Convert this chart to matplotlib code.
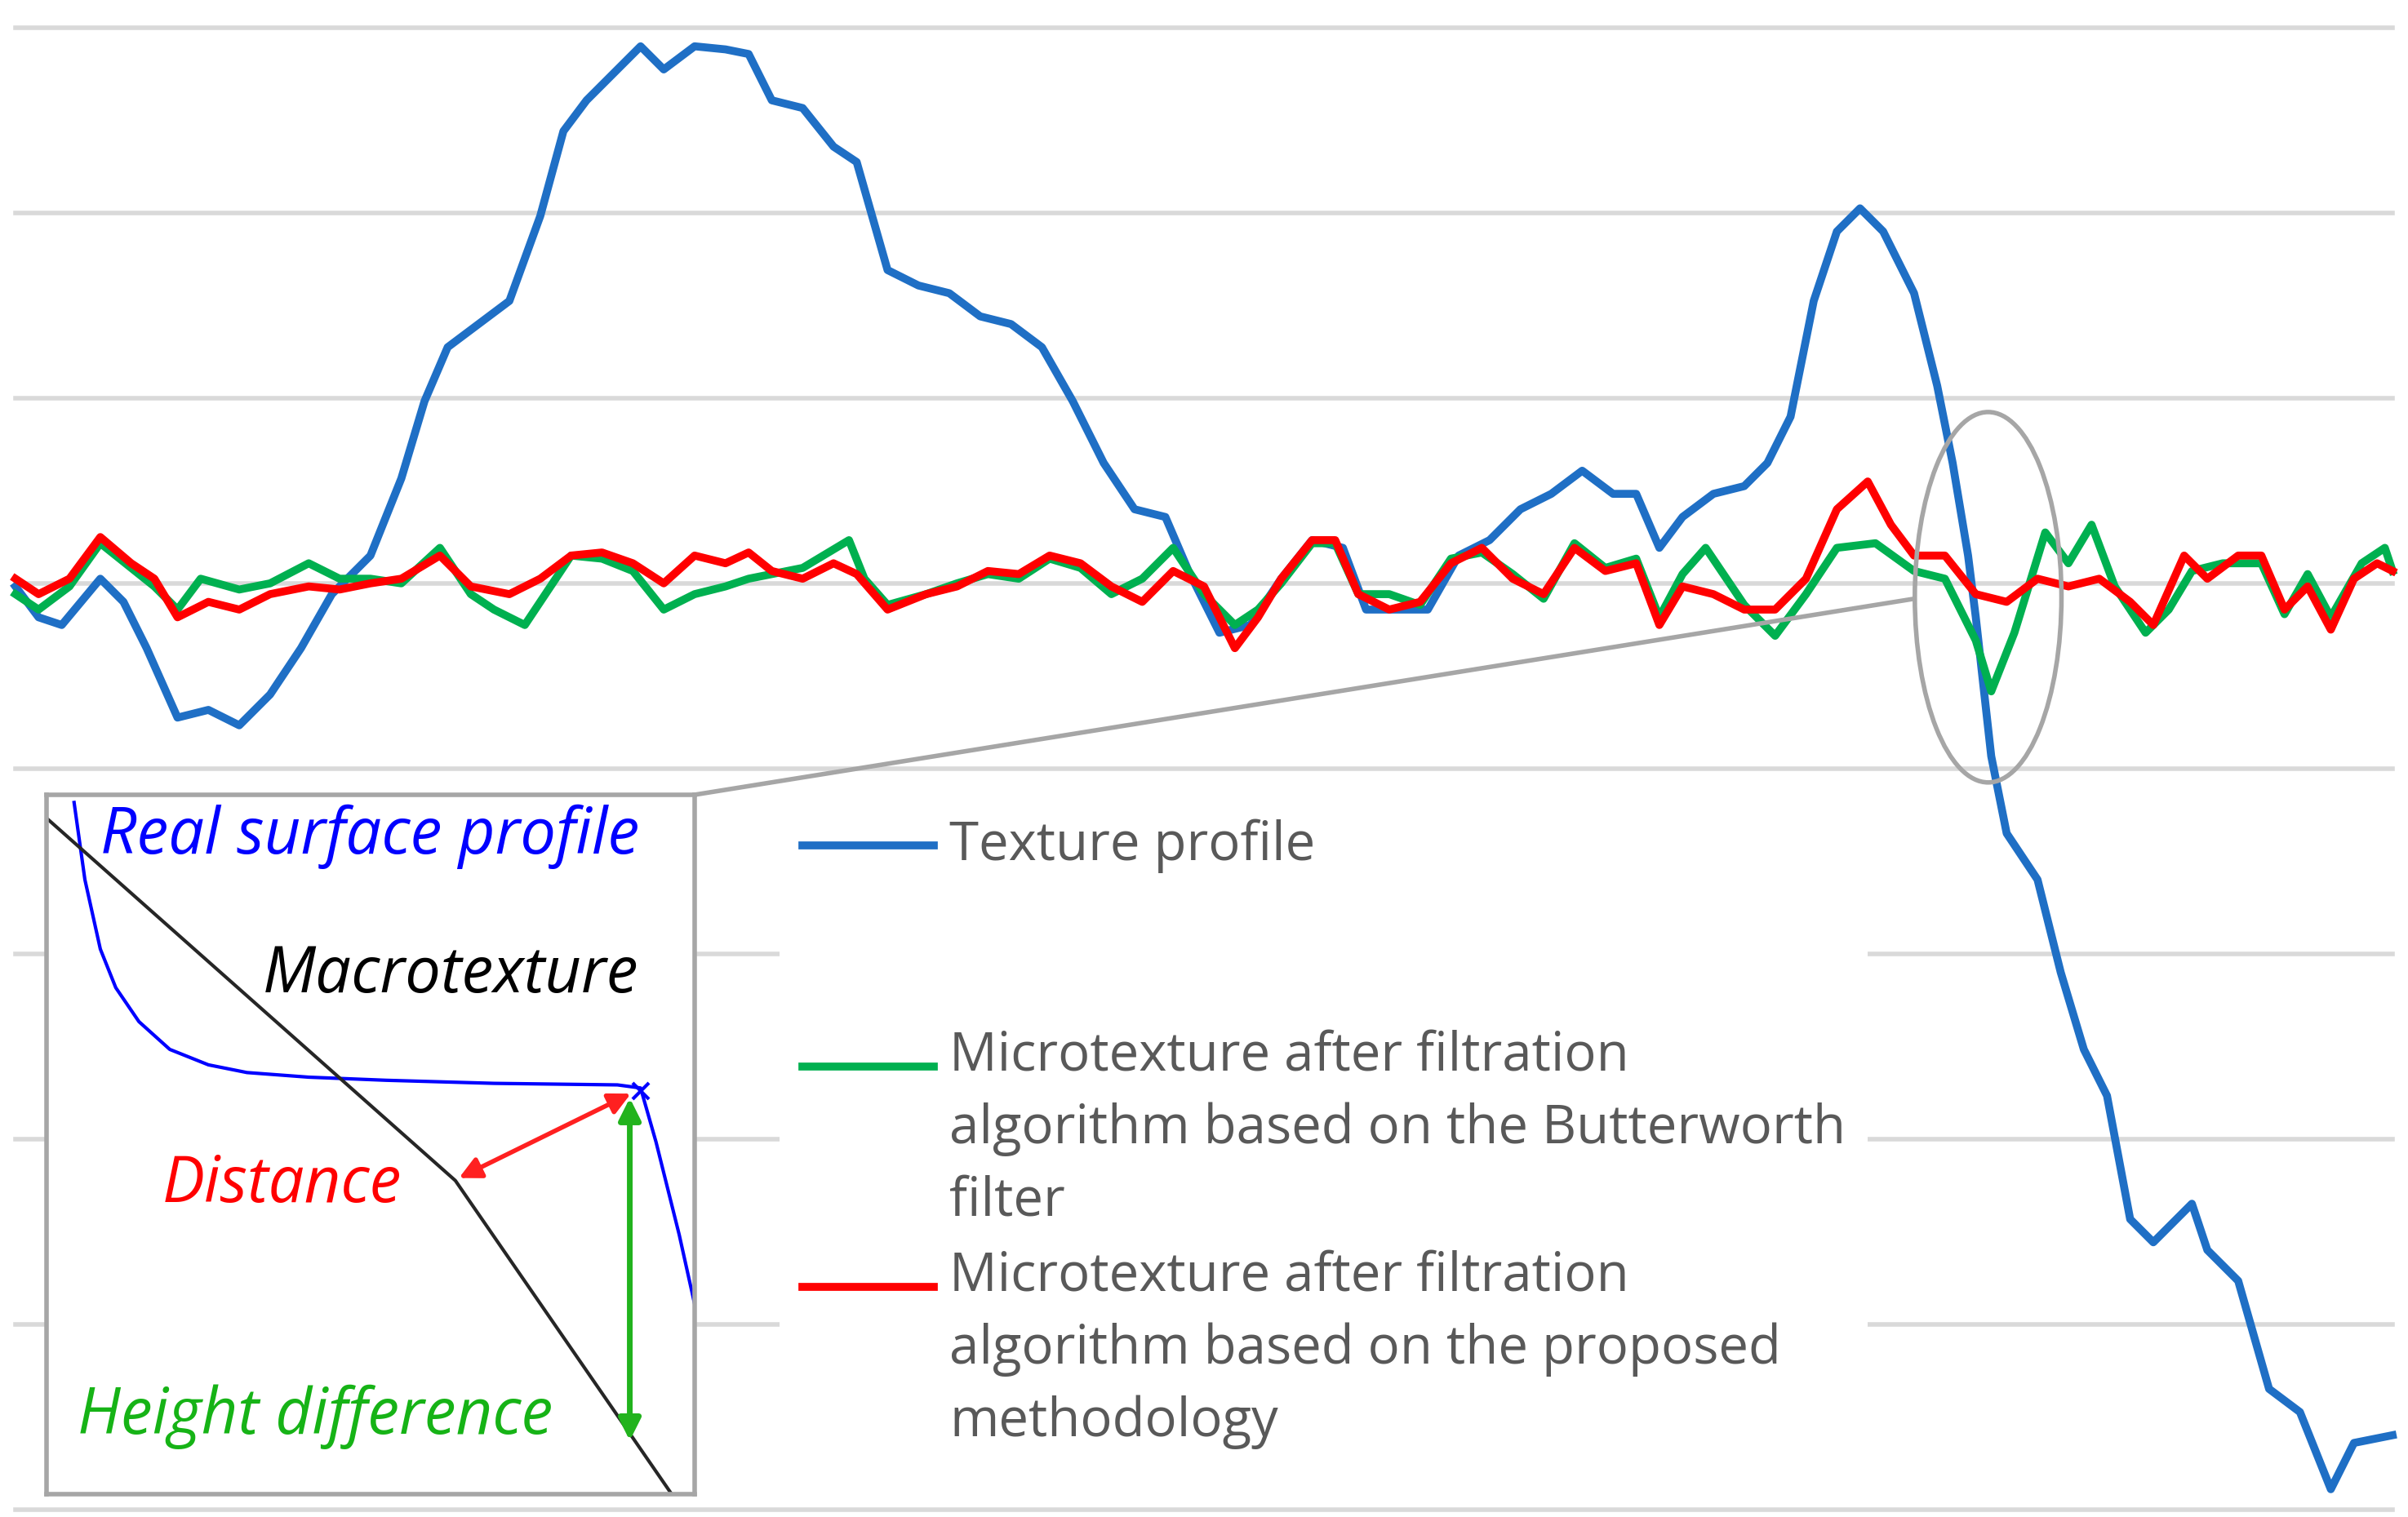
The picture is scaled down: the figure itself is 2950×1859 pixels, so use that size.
import matplotlib
matplotlib.use("Agg")
import matplotlib.pyplot as plt
from matplotlib.patches import Ellipse, Rectangle

# positions (x along profile, y in picture units, downward)
grid_y = [18, 138, 258, 378, 498, 618, 738, 858, 978]

blue_x = [10, 25, 40, 65, 80, 95, 115, 135, 155, 175, 195, 215, 240, 260, 275, 290, 310, 330, 350, 365,
          380, 400, 415, 430, 450, 470, 485, 500, 520, 540, 555, 575, 595, 615, 635, 655, 675, 695, 715,
          735, 755, 770, 790, 810, 830, 850, 870, 885, 905, 925, 945, 965, 985, 1005, 1025, 1045, 1060,
          1075, 1090, 1110, 1130, 1145, 1160, 1175, 1190, 1205, 1220, 1240, 1255, 1265, 1275, 1280, 1290,
          1300, 1320, 1335, 1350, 1365, 1380, 1395, 1410, 1420, 1430, 1450, 1470, 1490, 1510, 1525, 1550]
blue_y = [380, 400, 405, 375, 390, 420, 465, 460, 470, 450, 420, 385, 360, 310, 260, 225, 210, 195, 140, 85,
          65, 45, 30, 45, 30, 32, 35, 65, 70, 95, 105, 175, 185, 190, 205, 210, 225, 260, 300,
          330, 335, 370, 410, 405, 375, 350, 355, 395, 395, 395, 360, 350, 330, 320, 305, 320, 320,
          355, 335, 320, 315, 300, 270, 195, 150, 135, 150, 190, 250, 300, 360, 400, 490,
          540, 570, 630, 680, 710, 790, 805, 790, 780, 810, 830, 900, 915, 965, 935, 930]

red_x = [10, 25, 45, 65, 85, 100, 115, 135, 155, 175, 200, 220, 240, 260, 285, 305, 330, 350, 370, 390,
         410, 430, 450, 470, 485, 500, 520, 540, 555, 575, 600, 620, 640, 660, 680, 700, 720, 740, 760,
         780, 800, 815, 830, 850, 865, 880, 900, 920, 940, 960, 980, 1000, 1020, 1040, 1060, 1075, 1090,
         1110, 1130, 1150, 1170, 1190, 1210, 1225, 1240, 1260, 1280, 1300, 1320, 1340, 1360, 1380, 1395,
         1415, 1430, 1450, 1465, 1480, 1495, 1510, 1525, 1540, 1550]
red_y = [375, 385, 375, 348, 365, 375, 400, 390, 395, 385, 380, 382, 378, 375, 360, 380, 385, 375, 360, 358,
         365, 378, 360, 365, 358, 370, 375, 365, 372, 395, 385, 380, 370, 372, 360, 365, 380, 390, 370,
         380, 420, 400, 375, 350, 350, 385, 395, 390, 365, 355, 375, 385, 355, 370, 365, 405, 380,
         385, 395, 395, 375, 330, 312, 340, 360, 360, 385, 390, 375, 380, 375, 390, 405,
         360, 375, 360, 360, 395, 380, 408, 375, 365, 370]

green_x = [10, 25, 45, 65, 85, 100, 115, 130, 155, 175, 200, 220, 240, 260, 285, 305, 320, 340, 370, 390,
           410, 430, 450, 470, 485, 500, 520, 550, 560, 575, 600, 620, 640, 660, 680, 700, 720, 740, 760,
           780, 800, 815, 830, 850, 865, 880, 900, 920, 940, 960, 980, 1000, 1020, 1040, 1060, 1075, 1090,
           1105, 1130, 1150, 1170, 1190, 1215, 1240, 1260, 1280, 1290, 1305, 1325, 1340, 1355, 1370, 1390,
           1405, 1420, 1440, 1465, 1480, 1495, 1510, 1530, 1545, 1550]
green_y = [385, 395, 380, 352, 368, 380, 395, 375, 382, 378, 365, 375, 375, 378, 355, 385, 395, 405, 360, 362,
           370, 395, 385, 380, 375, 372, 368, 350, 375, 392, 385, 378, 372, 375, 362, 368, 385, 375, 355,
           385, 405, 395, 378, 352, 352, 385, 385, 392, 362, 358, 372, 388, 352, 368, 362, 400, 372,
           355, 392, 412, 385, 355, 352, 370, 375, 415, 448, 410, 345, 365, 340, 380, 410,
           395, 370, 365, 365, 398, 372, 400, 365, 355, 370]

# inset sketch, same picture units
real_x = [48, 55, 65, 75, 90, 110, 135, 160, 200, 250, 320, 400, 415, 425, 440, 450]
real_y = [520, 570, 615, 640, 662, 680, 690, 695, 698, 700, 702, 703, 705, 740, 800, 845]
macro_x = [30, 295, 435]
macro_y = [530, 765, 968]

legend_labels = ["Texture profile",
                 "Microtexture after filtration\nalgorithm based on the Butterworth\nfilter",
                 "Microtexture after filtration\nalgorithm based on the proposed\nmethodology"]
legend_y = [548, 691, 834]

BLUE, GREEN, RED = "#1f6fc5", "#00b050", "#ff0000"
GREY_TXT = "#595959"

fig = plt.figure(figsize=(29.5, 18.59), dpi=100)
ax = fig.add_axes([0, 0, 1, 1])
ax.set_xlim(0, 1560)
ax.set_ylim(983, 0)
ax.axis("off")

for g in grid_y:
    ax.plot([10, 1550], [g, g], color="#d9d9d9", lw=4, zorder=1)

ax.plot(blue_x, blue_y, color=BLUE, lw=7, zorder=3, solid_joinstyle="round")
ax.plot(green_x, green_y, color=GREEN, lw=7, zorder=4, solid_joinstyle="round")
ax.plot(red_x, red_y, color=RED, lw=7, zorder=5, solid_joinstyle="round")

ax.add_patch(Ellipse((1288, 387), 95, 240, fill=False, ec="#a6a6a6", lw=4, zorder=6))
ax.plot([1240, 450], [388, 515], color="#a6a6a6", lw=4, zorder=6)

# legend block
ax.add_patch(Rectangle((505, 505), 705, 455, fc="white", ec="none", zorder=2))
colors = [BLUE, GREEN, RED]
for lab, yy, c in zip(legend_labels, legend_y, colors):
    ax.plot([520, 605], [yy, yy], color=c, lw=7, zorder=7)
    multi = "\n" in lab
    ax.text(615, yy - 24 if multi else yy, lab, color=GREY_TXT, fontsize=47,
            va="top" if multi else "center", family="Open Sans", linespacing=1.45, zorder=7)

# inset
ins = fig.add_axes([30 / 1560, 1 - 968 / 983, 420 / 1560, 453 / 983])
ins.set_xlim(30, 450)
ins.set_ylim(968, 515)
ins.set_xticks([])
ins.set_yticks([])
for s in ins.spines.values():
    s.set_color("#a6a6a6")
    s.set_linewidth(4)
ins.plot(real_x, real_y, color="#0000ff", lw=3)
ins.plot(macro_x, macro_y, color="#262626", lw=3)
ins.plot([415], [707], marker="x", color="#0000ff", ms=14, mew=3)
ins.annotate("", xy=(296, 764), xytext=(410, 708),
             arrowprops=dict(arrowstyle="<|-|>", color="#ff2020", lw=4, mutation_scale=40))
ins.annotate("", xy=(408, 935), xytext=(408, 710),
             arrowprops=dict(arrowstyle="<|-|>", color="#22b31d", lw=5, mutation_scale=40))
ins.text(65, 542, "Real surface profile", color="#0000ff", fontsize=56, style="italic",
         family="Open Sans", va="center")
ins.text(170, 632, "Macrotexture", color="black", fontsize=56, style="italic",
         family="Open Sans", va="center")
ins.text(105, 768, "Distance", color="#ff0000", fontsize=56, style="italic",
         family="Open Sans", va="center")
ins.text(50, 918, "Height difference", color="#16b316", fontsize=56, style="italic",
         family="Open Sans", va="center")

fig.savefig("out.png", dpi=100, facecolor="white")
